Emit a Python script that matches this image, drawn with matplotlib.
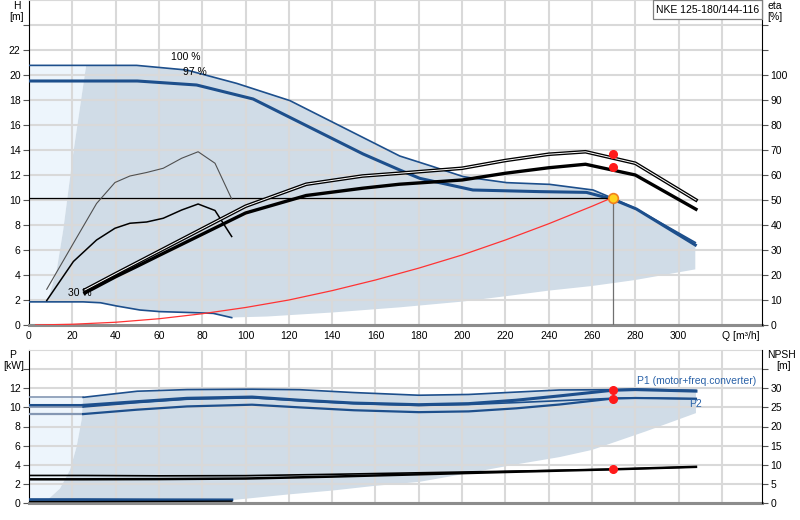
import numpy as np
import matplotlib
matplotlib.use('Agg')
import matplotlib.pyplot as plt
from matplotlib.patches import Rectangle

plt.rcParams['font.family'] = ['Liberation Sans', 'DejaVu Sans']
plt.rcParams['font.size'] = 7.5

# head curves, H [m] over Q [m3/h]
q_h100 = [0, 26.4, 49.7, 72.8, 95.9, 120.5, 171.2, 186.6, 200.5, 220.5, 240.5, 260.5, 269.7, 280.5, 307.7]
h_100 = [20.77, 20.77, 20.77, 20.4, 19.33, 17.95, 13.52, 12.67, 11.87, 11.39, 11.25, 10.8, 10.13, 9.28, 6.6]
q_h97 = [0, 50, 77.4, 103.5, 154.3, 171.2, 180.5, 205, 235.9, 257.4, 269.7, 280.5, 307.7]
h_97 = [19.52, 19.52, 19.2, 18.08, 13.68, 12.4, 11.73, 10.8, 10.67, 10.61, 10.05, 9.28, 6.4]
q_h30 = [0, 25, 33, 40.5, 51.2, 60.5, 75.8, 85.1, 93.6]
h_30 = [1.85, 1.85, 1.78, 1.52, 1.2, 1.07, 0.99, 0.93, 0.59]

# operating area edges (top chart)
q_edge = [8.5, 12.8, 15.8, 20.4, 26.4]
h_edge = [1.85, 4.4, 7.6, 13.7, 20.77]
q_low = [93.6, 110, 140, 171, 200, 220, 240, 260, 280, 307.7]
h_low = [0.6, 0.68, 1.0, 1.41, 1.87, 2.3, 2.75, 3.12, 3.6, 4.45]

# efficiency curves, eta [%]
q_eta = [25.8, 40, 50, 60, 80, 100, 128, 154, 171, 200, 220, 240, 257, 280, 308]
eta_1 = [14.0, 20.5, 25, 29.5, 38.5, 47.5, 56.3, 59.6, 60.7, 62.7, 65.8, 68.3, 69.3, 64.7, 50]
eta_2 = [12.8, 19.3, 23.5, 27.8, 36.3, 44.8, 51.8, 54.7, 56.3, 58, 60.7, 62.9, 64.3, 60, 46.3]
q_eta_lo = [8.2, 20.5, 31.2, 39.7, 46.6, 54.3, 62, 70.5, 78.1, 85.9, 93.6]
eta_lo1 = [14.3, 32.7, 48.6, 57, 59.6, 61, 62.7, 66.7, 69.3, 64.7, 50.4]
eta_lo2 = [9.8, 25.4, 34, 38.7, 40.7, 41.2, 42.7, 46, 48.4, 45.8, 35.4]

# system curve
q_sys = [3, 20, 40, 60, 80, 100, 120, 140, 160, 180, 200, 220, 240, 260, 269.5]
h_sys = [0.0, 0.06, 0.22, 0.5, 0.9, 1.4, 2.0, 2.75, 3.6, 4.55, 5.6, 6.8, 8.1, 9.5, 10.2]

# duty point
q_duty = 269.5
h_duty = 10.2
eta_duty = [68.3, 63.3]
p_duty = [11.79, 10.92]
npsh_duty = 8.8

# power curves, P [kW]
q_p = [0, 25, 50, 73, 103, 125, 150, 180, 203, 225, 245, 269.5, 280, 308]
p1_max = [11.05, 11.05, 11.69, 11.86, 11.9, 11.85, 11.55, 11.27, 11.35, 11.6, 11.82, 11.85, 11.9, 11.78]
p1_duty = [10.21, 10.21, 10.6, 10.95, 11.08, 10.75, 10.45, 10.28, 10.39, 10.75, 11.2, 11.79, 11.86, 11.7]
p2_max = [10.04, 10.04, 10.5, 10.85, 11.0, 10.7, 10.4, 10.2, 10.3, 10.5, 10.7, 10.95, 11.0, 10.9]
p2_duty = [9.3, 9.3, 9.76, 10.1, 10.28, 10.0, 9.7, 9.5, 9.58, 9.9, 10.3, 10.92, 10.98, 10.9]
q_p30 = [0, 25, 60, 93.7]
p1_30 = [0.36, 0.36, 0.34, 0.33]
p2_30 = [0.15, 0.15, 0.17, 0.19]

# operating area edges (bottom chart)
q_pedge = [8.2, 14.3, 18.9, 22, 24.3, 25]
p_pedge = [0.25, 1.51, 3.44, 5.9, 8.7, 11.05]
q_plow = [93.7, 120, 140, 160, 180, 200, 224, 245, 260, 285, 308]
p_plow = [0.3, 0.9, 1.3, 1.8, 2.2, 3.0, 4.0, 4.8, 5.55, 7.5, 9.4]

# NPSH [m]
q_npsh = [0, 25, 60, 100, 140, 180, 220, 269.5, 308]
npsh_1 = [7.2, 7.2, 7.1, 7.15, 7.5, 7.9, 8.3, 8.8, 9.45]
npsh_2 = [6.2, 6.2, 6.25, 6.4, 6.9, 7.5, 8.1, 8.8, 9.45]

BLUE = '#1d4f8c'
PALE = '#8497b3'
LIGHT = '#edf5fc'
AREA = '#d0dce7'
GRID = '#d9d9d9'

fig = plt.figure(figsize=(8, 5.2), dpi=100)
W, H = 800.0, 520.0


def ftext(x, y, s, **kw):
    fig.text(x / W, 1 - y / H, s, **kw)


def frame(a, t, xmax):
    a.set_xlim(0, xmax)
    a.grid(True, color=GRID, lw=1.5)
    a.spines['top'].set_color(GRID)
    a.spines['left'].set_color('black')
    a.spines['left'].set_linewidth(0.8)
    a.spines['right'].set_visible(False)
    a.spines['bottom'].set_color('#8c8c8c')
    a.spines['bottom'].set_linewidth(2.2)
    a.tick_params(axis='y', length=4, width=0.8, pad=2, color='#555555')
    a.tick_params(axis='x', length=0, pad=4)
    for s in ['left', 'top', 'bottom']:
        t.spines[s].set_visible(False)
    t.spines['right'].set_color('black')
    t.spines['right'].set_linewidth(0.8)
    t.tick_params(axis='y', length=4, width=0.8, pad=2, color='#555555')


xmax = 338.5

# ---------------- top chart: H / eta ----------------
ax = fig.add_axes([29 / W, 1 - 325 / H, 733 / W, 325 / H])
axe = ax.twinx()
frame(ax, axe, xmax)
ax.set_ylim(0, 26)
axe.set_ylim(0, 130)
ax.set_yticks(np.arange(0, 26, 2))
ax.set_yticklabels([str(v) for v in range(0, 23, 2)] + [''])
axe.set_yticks(np.arange(0, 130, 10))
axe.set_yticklabels([str(v) for v in range(0, 101, 10)] + ['', ''])
ax.set_xticks(np.arange(0, 340, 20))
ax.set_xticklabels([str(v) for v in range(0, 301, 20)] + ['Q [m³/h]'])
ax.get_xticklabels()[-1].set_ha('left')

qa = np.array(q_h100)
ha = np.array(h_100)
sel = qa >= q_edge[-1]
q30 = np.array(q_h30)
h30 = np.array(h_30)
mid = (q30 > q_edge[0]) & (q30 < q_low[0])
poly_q = list(qa[sel]) + q_low[::-1] + list(q30[mid][::-1]) + q_edge
poly_h = list(ha[sel]) + h_low[::-1] + list(h30[mid][::-1]) + h_edge
ax.fill([0, 0] + q_edge[::-1], [h_30[0], h_100[0]] + h_edge[::-1], color=LIGHT, lw=0, zorder=1)
ax.fill(poly_q, poly_h, color=AREA, lw=0, zorder=1)

ax.plot(q_h100, h_100, color=BLUE, lw=1.2, zorder=3)
ax.plot(q_h97, h_97, color=BLUE, lw=2.2, zorder=3)
ax.plot(q_h30, h_30, color=BLUE, lw=1.2, zorder=3)
ax.plot(q_sys, h_sys, color='#ff3333', lw=0.9, zorder=3)
ax.plot([0, q_duty], [h_duty, h_duty], color='black', lw=0.9, zorder=3)
ax.plot([q_duty, q_duty], [0, h_duty], color='#707070', lw=0.9, zorder=3)
ax.plot([q_duty], [h_duty], 'o', ms=7, mfc='#ffd21f', mec='#f07f20', mew=1.2, zorder=6)

ax.text(72.5, 21.44, '100 %', ha='center', va='center', zorder=5)
ax.text(76.8, 20.24, '97 %', ha='center', va='center', zorder=5)
ax.text(23.3, 2.56, '30 %', ha='center', va='center', zorder=5)

axe.plot(q_eta_lo, eta_lo1, color='#505050', lw=0.8)
axe.plot(q_eta_lo, eta_lo2, color='black', lw=1.1)
axe.plot(q_eta, eta_1, color='black', lw=2.6)
axe.plot(q_eta, eta_1, color='white', lw=0.7)
axe.plot(q_eta, eta_2, color='black', lw=2.4)
axe.plot([q_duty, q_duty], eta_duty, 'o', ms=5.5, color='#ff1a1a', mec='#ff1a1a', lw=0)

fig.patches.append(Rectangle((653 / W, 1 - 19 / H), 109 / W, 19 / H, transform=fig.transFigure,
                             facecolor='white', edgecolor='#808080', lw=0.9, zorder=10))
ftext(707.5, 10, 'NKE 125-180/144-116', ha='center', va='center', zorder=11)
ftext(16.5, 6, 'H', ha='center', va='center')
ftext(17, 17.5, '[m]', ha='center', va='center')
ftext(775, 6, 'eta', ha='center', va='center')
ftext(775, 17.5, '[%]', ha='center', va='center')

# ---------------- bottom chart: P / NPSH ----------------
axp = fig.add_axes([29 / W, 1 - 503 / H, 733 / W, 153 / H])
axn = axp.twinx()
frame(axp, axn, xmax)
axp.set_ylim(0, 16)
axn.set_ylim(0, 40)
axp.set_yticks(np.arange(0, 16, 2))
axp.set_yticklabels([str(v) for v in range(0, 13, 2)] + [''])
axn.set_yticks(np.arange(0, 40, 5))
axn.set_yticklabels([str(v) for v in range(0, 31, 5)] + [''])
axp.set_xticks(np.arange(0, 340, 20))
axp.set_xticklabels([])

pq = np.array(q_p)
pm = np.array(p1_max)
top = pq >= q_pedge[-1]
axp.fill([0, 0] + q_pedge[::-1], [p1_30[0], p1_max[0]] + p_pedge[::-1], color=LIGHT, lw=0, zorder=1)
axp.fill(list(pq[top]) + q_plow[::-1] + q_pedge,
         list(pm[top]) + p_plow[::-1] + p_pedge, color=AREA, lw=0, zorder=1)

for series, lw in [(p1_max, 1.2), (p1_duty, 2.2), (p2_max, 1.2), (p2_duty, 1.6)]:
    axp.plot(q_p[:2], series[:2], color=PALE if lw < 2 else BLUE, lw=lw, zorder=3)
    axp.plot(q_p[1:], series[1:], color=BLUE, lw=lw, zorder=3)
axp.plot(q_p30, p1_30, color=BLUE, lw=2.0, zorder=3)
axp.plot(q_p30, p2_30, color='black', lw=1.0, zorder=3)
axp.plot([q_duty, q_duty], p_duty, 'o', ms=5.5, color='#ff1a1a', lw=0, zorder=6)

axn.plot(q_npsh, npsh_1, color='black', lw=1.2)
axn.plot(q_npsh, npsh_2, color='black', lw=1.8)
axn.plot([q_duty], [npsh_duty], 'o', ms=5.5, color='#ff1a1a')

ftext(637, 381, 'P1 (motor+freq.converter)', color='#2a62a8', va='center')
ftext(689, 404, 'P2', color='#2a62a8', va='center')
ftext(13, 355, 'P', ha='center', va='center')
ftext(14, 366, '[kW]', ha='center', va='center')
ftext(781, 355, 'NPSH', ha='center', va='center')
ftext(784, 366, '[m]', ha='center', va='center')

fig.savefig('out.png', dpi=100)
